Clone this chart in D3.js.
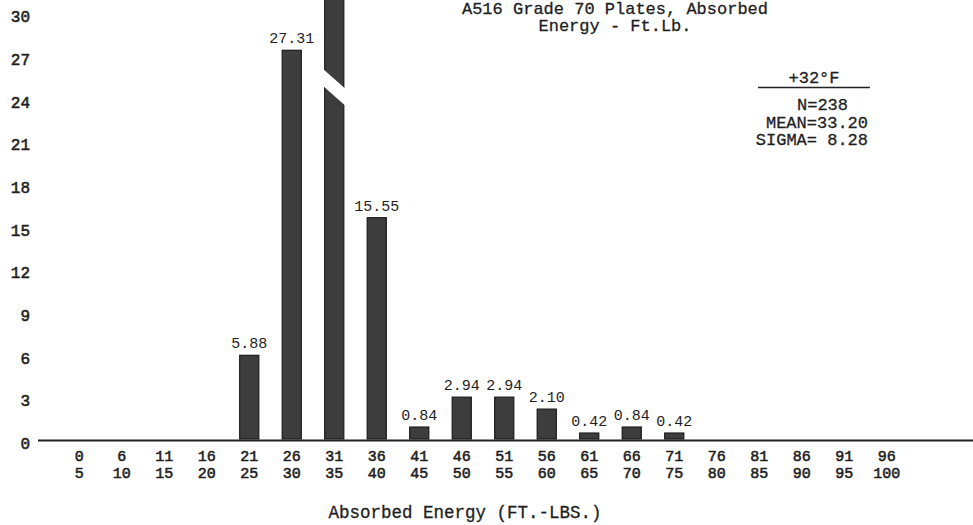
<!DOCTYPE html>
<html>
<head>
<meta charset="utf-8">
<script src="https://cdn.jsdelivr.net/npm/d3@7/dist/d3.min.js"></script>
<style>
  html, body { margin: 0; padding: 0; background: #fff; }
  svg { display: block; }
  text { font-family: "Liberation Mono", "Courier New", monospace; fill: #1e1e1e; }
  .heavy { stroke: #1e1e1e; stroke-width: 0.55px; }
  .medium { stroke: #1e1e1e; stroke-width: 0.3px; }
</style>
</head>
<body>
<svg id="chart" width="973" height="525"></svg>
<script>
// Energy bins (ft-lb), lower and upper edge of each class
const binLow  = [0, 6, 11, 16, 21, 26, 31, 36, 41, 46, 51, 56, 61, 66, 71, 76, 81, 86, 91, 96];
const binHigh = [5, 10, 15, 20, 25, 30, 35, 40, 45, 50, 55, 60, 65, 70, 75, 80, 85, 90, 95, 100];
// Percent of specimens in each bin (N = 238); 31-35 runs past the top of the axis
const percent = [0, 0, 0, 0, 5.88, 27.31, 40.76, 15.55, 0.84, 2.94, 2.94, 2.10, 0.42, 0.84, 0.42, 0, 0, 0, 0, 0];
// Bins whose bar is drawn with a break
const brokenBins = ["31-35"];
// Y axis tick labels
const yTicks = [0, 3, 6, 9, 12, 15, 18, 21, 24, 27, 30];
// Title and summary block
const titleLines = ["A516 Grade 70 Plates, Absorbed", "Energy - Ft.Lb."];
const statHeader = "+32\u00B0F";
const statLines = ["N=238", "MEAN=33.20", "SIGMA= 8.28"];
const xTitle = "Absorbed Energy (FT.-LBS.)";

const categories = binLow.map((lo, i) => lo + "-" + binHigh[i]);
const rows = categories.map((c, i) => ({ key: c, lo: binLow[i], hi: binHigh[i], v: percent[i] }));

const svg = d3.select("#chart");

const x = d3.scaleBand()
  .domain(categories)
  .range([58, 908])
  .paddingInner(0.55)
  .paddingOuter(0.275);

const y = d3.scaleLinear().domain([0, 30]).range([439, 12]);

// Bars
svg.append("g")
  .selectAll("rect")
  .data(rows.filter(d => d.v > 0))
  .join("rect")
  .attr("x", d => x(d.key))
  .attr("width", x.bandwidth())
  .attr("y", d => y(d.v))
  .attr("height", d => y(0) - y(d.v))
  .attr("fill", "#3d3d3d")
  .attr("stroke", "#1c1c1c")
  .attr("stroke-width", 1.2);

// Break mark across the tall bar
const brk = 17;
svg.append("g")
  .selectAll("polygon")
  .data(rows.filter(d => brokenBins.includes(d.key)))
  .join("polygon")
  .attr("points", d => {
    const x0 = x(d.key) - 3, x1 = x(d.key) + x.bandwidth() + 3;
    const yTop = y(25.9);
    const slope = brk / x.bandwidth();
    const yl = yTop - 3 * slope, yr = yTop + (x.bandwidth() + 3) * slope;
    return [[x0, yl], [x1, yr], [x1, yr + brk], [x0, yl + brk]].map(p => p.join(",")).join(" ");
  })
  .attr("fill", "#fff");

// Value labels above bars
svg.append("g")
  .selectAll("text")
  .data(rows.filter(d => d.v > 0 && !brokenBins.includes(d.key)))
  .join("text")
  .attr("x", d => x(d.key) + x.bandwidth() / 2)
  .attr("y", d => y(d.v) - 7)
  .attr("text-anchor", "middle")
  .style("font-size", "15px")
  .text(d => d.v.toFixed(2));

// Baseline
svg.append("line")
  .attr("x1", 38).attr("x2", 973)
  .attr("y1", y(0) + 1.5).attr("y2", y(0) + 1.5)
  .attr("stroke", "#222")
  .attr("stroke-width", 2.2);

// Y axis labels
const yAxis = d3.axisLeft(y).tickValues(yTicks).tickSize(0).tickPadding(0);
const gy = svg.append("g").attr("transform", "translate(30,0)").call(yAxis);
gy.select(".domain").remove();
gy.selectAll("text")
  .attr("class", "heavy")
  .attr("dy", "0.6em")
  .style("font-size", "16px")
  .style("font-family", "'Liberation Mono', monospace")
  .attr("fill", "#1e1e1e");

// X axis labels: two lines per bin
const xAxis = d3.axisBottom(x).tickSize(0).tickFormat("");
const gx = svg.append("g").attr("transform", `translate(0,${y(0)})`).call(xAxis);
gx.select(".domain").remove();
gx.selectAll(".tick text").each(function(key) {
  const d = rows.find(r => r.key === key);
  const t = d3.select(this)
    .attr("class", "heavy")
    .attr("y", 0).attr("dy", null)
    .style("font-size", "15px")
    .style("font-family", "'Liberation Mono', monospace")
    .attr("fill", "#1e1e1e");
  t.append("tspan").attr("x", 0).attr("y", 22).text(d.lo);
  t.append("tspan").attr("x", 0).attr("y", 39).text(d.hi);
});

// Axis title
svg.append("text")
  .attr("class", "medium")
  .attr("x", 465).attr("y", 518)
  .attr("text-anchor", "middle")
  .style("font-size", "17.5px")
  .text(xTitle);

// Chart title
svg.append("g")
  .selectAll("text")
  .data(titleLines)
  .join("text")
  .attr("class", "medium")
  .attr("x", 615)
  .attr("y", (d, i) => 13.5 + i * 17.5)
  .attr("text-anchor", "middle")
  .style("font-size", "17px")
  .text(d => d);

// Summary block
svg.append("text")
  .attr("class", "medium")
  .attr("x", 814).attr("y", 83)
  .attr("text-anchor", "middle")
  .style("font-size", "17px")
  .text(statHeader);
svg.append("line")
  .attr("x1", 758).attr("x2", 870)
  .attr("y1", 87.5).attr("y2", 87.5)
  .attr("stroke", "#222").attr("stroke-width", 1.3);
const statX = [848, 868, 868];
const statY = [110, 127.5, 145];
svg.append("g")
  .selectAll("text")
  .data(statLines)
  .join("text")
  .attr("class", "medium")
  .attr("x", (d, i) => statX[i])
  .attr("y", (d, i) => statY[i])
  .attr("text-anchor", "end")
  .style("font-size", "17px")
  .text(d => d);
</script>
</body>
</html>
